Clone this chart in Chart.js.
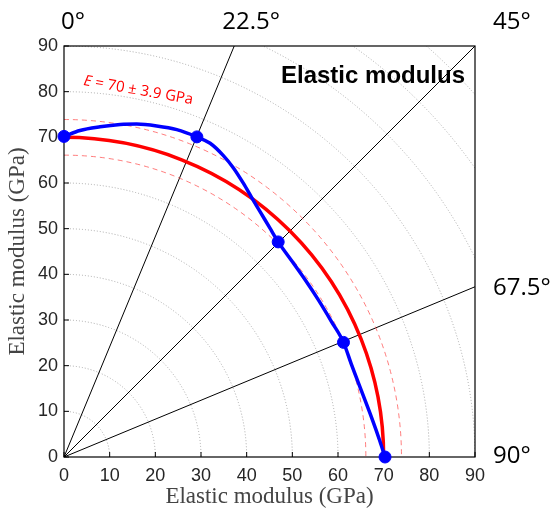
<!DOCTYPE html>
<html>
<head>
<meta charset="utf-8">
<script src="https://cdn.jsdelivr.net/npm/chart.js@4.4.1/dist/chart.umd.min.js"></script>
<style>
  html, body { margin: 0; padding: 0; background: #fff; }
</style>
</head>
<body>
<canvas id="chart" width="555" height="508"></canvas>
<script>
// blue curve (GPa)
const curveX = [0, 3.5, 7.9, 12.3, 15.9, 20.3, 24.7, 29.1, 32.0, 34.9, 37.1, 39.3, 41.1, 42.9, 45.1, 46.9,
    49.9, 52.8, 55.7, 58.6, 61.2, 63.0, 65.2, 67.4, 69.2, 70.3];
const curveY = [70.2, 71.5, 72.3, 72.8, 72.9, 72.5, 71.7, 70.1, 68.7, 66.0, 63.3, 59.9, 56.8, 53.8, 50.1, 47.1,
    42.9, 38.8, 34.4, 29.6, 25.1, 20.1, 14.3, 8.5, 3.4, 0];

// measured points at 0, 22.5, 45, 67.5 and 90 degrees
const pointX = [0, 29.1, 46.9, 61.2, 70.3];
const pointY = [70.2, 70.1, 47.1, 25.1, 0];

// mean modulus and its spread
const meanModulus = 70;
const spread = 3.9;

// polar grid
const ringRadii = [10, 20, 30, 40, 50, 60, 70, 80, 90, 100, 110, 120];
const directionAngles = [22.5, 45, 67.5];
const angleLabels = ['0°', '22.5°', '45°', '67.5°', '90°'];

const axisTitle = 'Elastic modulus (GPa)';
const chartTitle = 'Elastic modulus';
const noteText = ' = 70 ± 3.9 GPa';

const toPoints = (xs, ys) => xs.map((v, i) => ({ x: v, y: ys[i] }));

const polarGrid = {
    id: 'polarGrid',
    beforeDatasetsDraw(chart) {
        const { ctx, chartArea: a, scales: { x, y } } = chart;
        const ox = x.getPixelForValue(0);
        const oy = y.getPixelForValue(0);
        const rad = r => x.getPixelForValue(r) - ox;

        ctx.save();
        ctx.beginPath();
        ctx.rect(a.left, a.top, a.right - a.left, a.bottom - a.top);
        ctx.clip();

        // dotted rings
        ctx.strokeStyle = '#a8a8a8';
        ctx.lineWidth = 1;
        ctx.setLineDash([1, 2]);
        ringRadii.forEach(r => {
            ctx.beginPath();
            ctx.arc(ox, oy, rad(r), -Math.PI / 2, 0);
            ctx.stroke();
        });

        // directions
        ctx.setLineDash([]);
        ctx.strokeStyle = '#000';
        directionAngles.forEach(d => {
            const t = d * Math.PI / 180;
            const R = rad(200);
            ctx.beginPath();
            ctx.moveTo(ox, oy);
            ctx.lineTo(ox + R * Math.sin(t), oy - R * Math.cos(t));
            ctx.stroke();
        });

        // spread band
        ctx.strokeStyle = 'rgba(255, 70, 70, 0.7)';
        ctx.setLineDash([5, 4]);
        [meanModulus - spread, meanModulus + spread].forEach(r => {
            ctx.beginPath();
            ctx.arc(ox, oy, rad(r), -Math.PI / 2, 0);
            ctx.stroke();
        });

        // mean modulus
        ctx.setLineDash([]);
        ctx.strokeStyle = '#ff0000';
        ctx.lineWidth = 3.5;
        ctx.beginPath();
        ctx.arc(ox, oy, rad(meanModulus), -Math.PI / 2, 0);
        ctx.stroke();
        ctx.restore();

        // box and inner ticks
        ctx.save();
        ctx.strokeStyle = '#000';
        ctx.lineWidth = 1.2;
        ctx.strokeRect(a.left, a.top, a.right - a.left, a.bottom - a.top);
        ctx.lineWidth = 1;
        ctx.beginPath();
        x.ticks.forEach(t => {
            const px = x.getPixelForValue(t.value);
            ctx.moveTo(px, a.bottom);
            ctx.lineTo(px, a.bottom - 5);
        });
        y.ticks.forEach(t => {
            const py = y.getPixelForValue(t.value);
            ctx.moveTo(a.left, py);
            ctx.lineTo(a.left + 5, py);
        });
        ctx.stroke();
        ctx.restore();
    },
    afterDraw(chart) {
        const { ctx, chartArea: a, scales: { x, y } } = chart;
        const ox = x.getPixelForValue(0);
        const oy = y.getPixelForValue(0);
        ctx.save();

        // angle labels
        const hit67 = oy - (a.right - ox) / Math.tan(67.5 * Math.PI / 180);
        const hit22 = ox + (oy - a.top) * Math.tan(22.5 * Math.PI / 180);
        const spots = [
            [a.left - 3, a.top - 17],
            [hit22 - 12, a.top - 17],
            [a.right + 18, a.top - 17],
            [a.right + 18, hit67 + 8],
            [a.right + 18, a.bottom + 6]
        ];
        ctx.fillStyle = '#000';
        ctx.font = '24px "Open Sans"';
        ctx.textAlign = 'left';
        ctx.textBaseline = 'alphabetic';
        angleLabels.forEach((txt, i) => ctx.fillText(txt, spots[i][0], spots[i][1]));

        // title
        ctx.font = 'bold 24px "Liberation Sans"';
        ctx.fillText(chartTitle, a.left + 217, a.top + 37);

        // note along the ring
        ctx.translate(a.left + 19, a.top + 39);
        ctx.rotate(10 * Math.PI / 180);
        ctx.fillStyle = '#ff0000';
        ctx.font = 'italic 15px "Open Sans"';
        ctx.fillText('E', 0, 0);
        const w = ctx.measureText('E').width;
        ctx.font = '15px "Open Sans"';
        ctx.fillText(noteText, w, 0);
        ctx.restore();
    }
};

const tickFont = { family: '"Liberation Sans", Arial, sans-serif', size: 18 };
const titleFont = { family: '"Liberation Serif", "Times New Roman", serif', size: 23, lineHeight: 1.0 };

const ctx = document.getElementById('chart').getContext('2d');
const chart = new Chart(ctx, {
    type: 'scatter',
    data: {
        datasets: [
            {
                label: 'points',
                data: toPoints(pointX, pointY),
                backgroundColor: '#0000ff',
                borderColor: '#0000ff',
                pointRadius: 6,
                pointHoverRadius: 6,
                showLine: false,
                clip: false
            },
            {
                label: 'curve',
                data: toPoints(curveX, curveY),
                borderColor: '#0000ff',
                borderWidth: 3.5,
                pointRadius: 0,
                showLine: true,
                cubicInterpolationMode: 'monotone',
                clip: false
            }
        ]
    },
    options: {
        responsive: false,
        animation: false,
        devicePixelRatio: 1,
        layout: { padding: { top: 46, right: 80, left: 0, bottom: 0 } },
        plugins: {
            legend: { display: false },
            tooltip: { enabled: false }
        },
        scales: {
            x: {
                type: 'linear',
                min: 0,
                max: 90,
                ticks: { stepSize: 10, color: '#262626', font: tickFont, padding: 8 },
                grid: { display: false, drawTicks: false },
                border: { display: false },
                title: { display: true, text: axisTitle, color: '#444', font: titleFont, padding: 0 },
                afterFit: s => { s.height = 51; }
            },
            y: {
                type: 'linear',
                min: 0,
                max: 90,
                ticks: { stepSize: 10, color: '#262626', font: tickFont, padding: 6 },
                grid: { display: false, drawTicks: false },
                border: { display: false },
                title: { display: true, text: axisTitle, color: '#444', font: titleFont, padding: { top: 6, bottom: 0 } },
                afterFit: s => { s.width = 64; }
            }
        }
    },
    plugins: [polarGrid]
});
</script>
</body>
</html>
